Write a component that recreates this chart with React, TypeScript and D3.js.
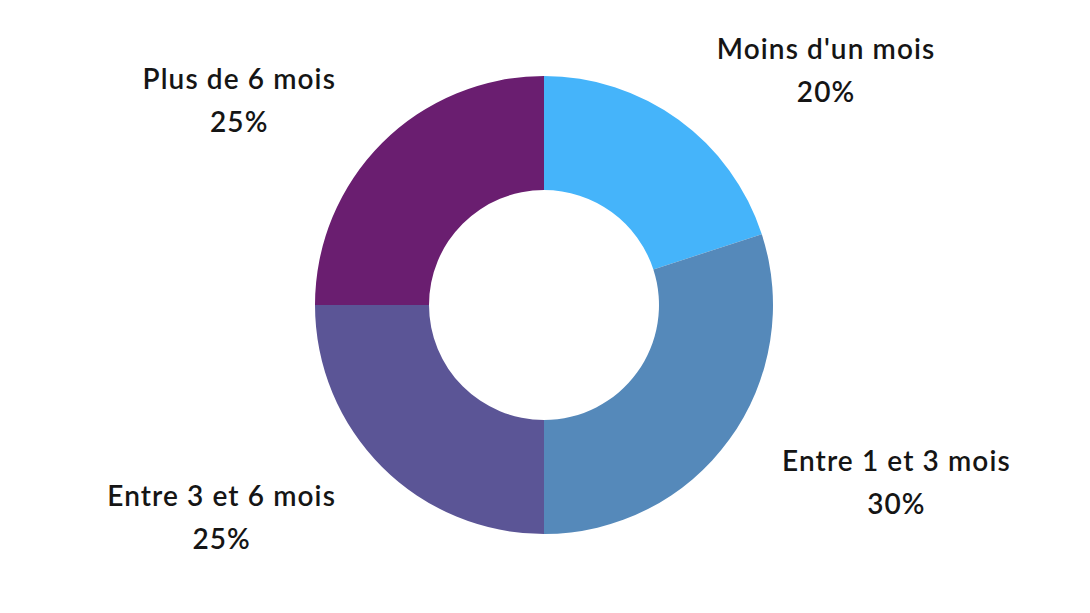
import React from "react";
import * as d3 from "d3";

const categories = ["Moins d'un mois", "Entre 1 et 3 mois", "Entre 3 et 6 mois", "Plus de 6 mois"];
const values = [20, 30, 25, 25];
const colors = ["#45B4FA", "#5589BA", "#5B5596", "#6A1E70"];

const W = 1090;
const H = 613;
const cx = 544;
const cy = 305;
const outerR = 229;
const innerR = 115;
const labelR = 295;
const fontSize = 28;
const fontWeight = 600;
const letterSpacing = 1.1;
const lineGap = 43;
const labelDy = 3;
const font = "Lato, 'Noto Sans', sans-serif";

function measure(text: string): number {
  const c = document.createElement("canvas").getContext("2d");
  if (!c) return text.length * fontSize * 0.55;
  c.font = `${fontWeight} ${fontSize}px Lato`;
  return c.measureText(text).width + letterSpacing * (text.length - 1);
}

export default function App() {
  const pie = d3.pie<number>().sort(null).value((d) => d);
  const arcs = pie(values);
  const arc = d3.arc<d3.PieArcDatum<number>>().innerRadius(innerR).outerRadius(outerR);
  const total = d3.sum(values);

  return (
    <svg width={W} height={H} style={{ position: "absolute", left: 0, top: 0 }}>
      <rect width={W} height={H} fill="#fff" />
      <g transform={`translate(${cx},${cy})`}>
        {arcs.map((a, i) => (
          <path key={i} d={arc(a) || ""} fill={colors[i]} />
        ))}
        {arcs.map((a, i) => {
          const mid = (a.startAngle + a.endAngle) / 2;
          const x = labelR * Math.sin(mid);
          const y = -labelR * Math.cos(mid) + labelDy;
          const pct = `${Math.round((values[i] / total) * 100)}%`;
          const wBlock = Math.max(measure(categories[i]), measure(pct));
          const right = Math.sin(mid) >= 0;
          const tx = right ? x + wBlock / 2 : x - wBlock / 2;
          return (
            <text
              key={i}
              x={tx}
              textAnchor="middle"
              fontFamily={font}
              fontSize={fontSize}
              fontWeight={fontWeight}
              letterSpacing={letterSpacing}
              fill="#151515"
            >
              <tspan x={tx} y={y - lineGap / 2} dominantBaseline="central">
                {categories[i]}
              </tspan>
              <tspan x={tx} y={y + lineGap / 2} dominantBaseline="central">
                {pct}
              </tspan>
            </text>
          );
        })}
      </g>
    </svg>
  );
}
